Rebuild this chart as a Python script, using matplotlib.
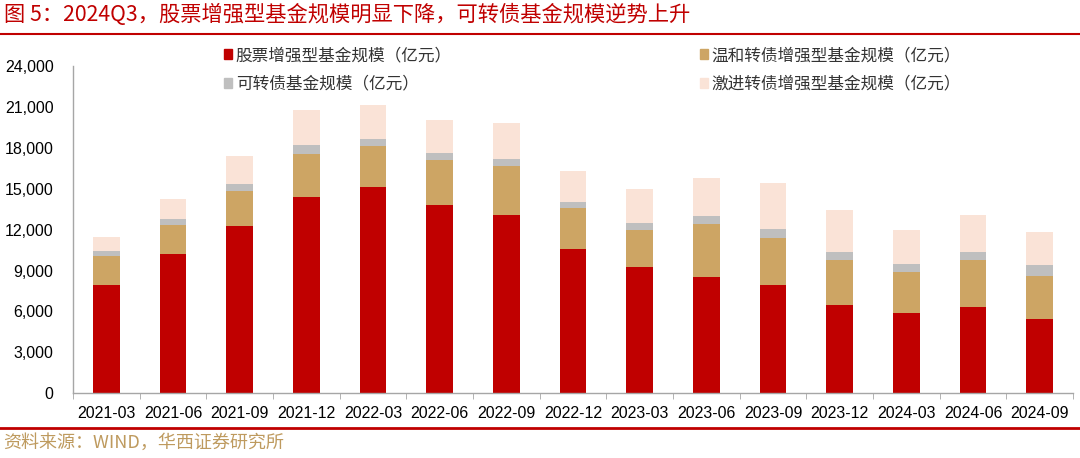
import matplotlib
matplotlib.use('Agg')
import matplotlib.pyplot as plt
from matplotlib.patches import Patch
import numpy as np

plt.rcParams['font.family'] = ['Liberation Sans', 'Noto Sans CJK SC']
cjk = ['Noto Sans CJK SC', 'DejaVu Sans']

# 季度
quarters = ['2021-03', '2021-06', '2021-09', '2021-12', '2022-03', '2022-06', '2022-09',
            '2022-12', '2023-03', '2023-06', '2023-09', '2023-12', '2024-03', '2024-06', '2024-09']

# 各类规模（亿元），按堆叠顺序
stock_enh = [7970, 10190, 12290, 14420, 15150, 13780, 13050, 10580, 9240, 8560, 7940, 6500, 5910, 6330, 5450]
mild_cb = [2100, 2180, 2540, 3150, 3010, 3350, 3620, 3010, 2760, 3850, 3470, 3300, 3010, 3420, 3180]
cb_fund = [340, 390, 520, 640, 490, 490, 490, 440, 490, 620, 640, 590, 540, 640, 780]
aggr_cb = [1030, 1460, 2050, 2560, 2490, 2420, 2660, 2250, 2470, 2760, 3390, 3050, 2490, 2660, 2420]

labels = ['股票增强型基金规模（亿元）', '温和转债增强型基金规模（亿元）',
          '可转债基金规模（亿元）', '激进转债增强型基金规模（亿元）']
colors = ['#C00000', '#CDA564', '#BFBFBF', '#FAE3D7']

fig = plt.figure(figsize=(10.8, 4.58), dpi=100)
ax = fig.add_axes([73 / 1080, 1 - 393.3 / 458, 1000 / 1080, 327.3 / 458])

x = np.arange(len(quarters))
bottom = np.zeros(len(quarters))
for vals, c in zip([stock_enh, mild_cb, cb_fund, aggr_cb], colors):
    ax.bar(x, vals, width=0.4, bottom=bottom, color=c, zorder=2)
    bottom += np.array(vals)

ax.set_xlim(-0.5, len(quarters) - 0.5)
ax.set_ylim(0, 24000)
ax.set_yticks(np.arange(0, 24001, 3000))
ax.set_yticklabels([f'{v:,}' for v in range(0, 24001, 3000)], fontsize=11.5)
ax.set_xticks(x)
ax.set_xticklabels(quarters, fontsize=11.5)
ax.set_xticks(np.arange(-0.5, len(quarters), 1), minor=True)
ax.tick_params(axis='x', which='major', length=0, pad=9)
ax.tick_params(axis='x', which='minor', length=4, color='#A6A6A6', direction='out')
ax.tick_params(axis='y', length=0, pad=14)

for s in ['top', 'right']:
    ax.spines[s].set_visible(False)
for s in ['left', 'bottom']:
    ax.spines[s].set_color('#A6A6A6')
    ax.spines[s].set_linewidth(1.0)

handles = [Patch(color=colors[0]), Patch(color=colors[2]), Patch(color=colors[1]), Patch(color=colors[3])]
leg_labels = [labels[0], labels[2], labels[1], labels[3]]
fig.legend(handles, leg_labels, ncol=2, loc='upper left', bbox_to_anchor=(224 / 1080, 1 - 47 / 458),
           frameon=False, borderpad=0, borderaxespad=0, handlelength=0.5, handleheight=0.5,
           handletextpad=0.2, columnspacing=14.9, labelspacing=0.7,
           prop={'family': cjk, 'size': 12}, labelcolor='#333333')

fig.text(0.004, 1 - 15 / 458, '图 5：2024Q3，股票增强型基金规模明显下降，可转债基金规模逆势上升',
         family=cjk, fontsize=15.3, color='#C00000', va='center', ha='left')
fig.add_artist(plt.Line2D([0, 1], [1 - 34 / 458] * 2, color='#C00000', lw=1.5))
fig.add_artist(plt.Line2D([0, 1], [1 - 428 / 458] * 2, color='#C00000', lw=2))
fig.text(0.003, 1 - 443 / 458, '资料来源：WIND，华西证券研究所',
         family=cjk, fontsize=13, color='#BE9A5E', va='center', ha='left')

fig.savefig('out.png', dpi=100)
